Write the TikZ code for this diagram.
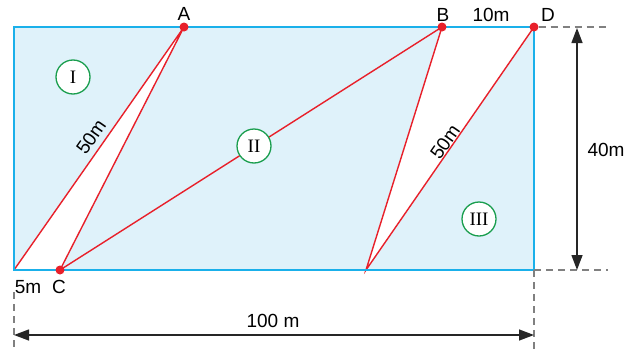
\documentclass[tikz,border=0pt]{standalone}
\usepackage{fontspec}
\setmainfont{Liberation Sans}
\newfontfamily\numfont{Liberation Serif}
\usetikzlibrary{arrows.meta}
\definecolor{fieldblue}{HTML}{DFF2FA}
\definecolor{edgeblue}{HTML}{1AB0EA}
\definecolor{linered}{HTML}{E8202A}
\definecolor{circgreen}{HTML}{1A9E4E}
\definecolor{dashgray}{HTML}{808080}
\tikzset{
  pt/.style={circle,fill=linered,inner sep=0pt,minimum size=9pt},
  corner/.style={inner sep=0pt,minimum size=0pt},
  redline/.style={draw=linered,line width=1.4pt},
  lbl/.style={font=\fontsize{19}{22}\selectfont,inner sep=0pt},
  region/.style={circle,draw=circgreen,line width=1.3pt,fill=white,minimum size=34pt,inner sep=0pt,font=\numfont\fontsize{19}{22}\selectfont},
  dim/.style={draw=black!85,line width=1.4pt,{Triangle[length=15pt,width=11pt]}-{Triangle[length=15pt,width=11pt]}},
  dashline/.style={draw=dashgray,line width=1.2pt,dash pattern=on 7pt off 5pt}
}
\begin{document}
\begin{tikzpicture}[x=1pt,y=-1pt]
\useasboundingbox (0,0) rectangle (629,351);
% corners and points
\coordinate (TL) at (14,27);
\coordinate (TR) at (534,27);
\coordinate (BL) at (14,270);
\coordinate (BR) at (534,270);
\coordinate (E) at (366,270);
\coordinate (Aa) at (184,27);
\coordinate (Bb) at (442,27);
\coordinate (Cc) at (60,270);
% fill
\fill[fieldblue] (TL) rectangle (BR);
\fill[white] (BL) -- (Aa) -- (Cc) -- cycle;
\fill[white] (Bb) -- (TR) -- (E) -- cycle;
% red lines
\draw[redline] (BL) -- (Aa) -- (Cc) -- (Bb) -- (E) -- (TR);
% border
\draw[edgeblue,line width=1.8pt] (TL) rectangle (BR);
% points
\node[pt] (A) at (Aa) {};
\node[pt] (B) at (Bb) {};
\node[pt] (C) at (Cc) {};
\node[pt] (D) at (TR) {};
% dashed helpers
\coordinate (dTop) at (610,27);
\coordinate (dBot) at (608,270);
\coordinate (dR) at (534,351);
\coordinate (dLt) at (14,292);
\coordinate (dLb) at (14,351);
\draw[dashline] (D) -- (dTop);
\draw[dashline] (BR) -- (dBot);
\draw[dashline] (BR) -- (dR);
\draw[dashline] (dLt) -- (dLb);
% dimension arrows
\coordinate (v1) at (577,28);
\coordinate (v2) at (577,270);
\draw[dim] (v1) -- (v2);
\coordinate (h1) at (14,335);
\coordinate (h2) at (534,335);
\draw[dim] (h1) -- (h2);
% labels
\node[lbl] (lA) at (184,14) {A};
\node[lbl] (lB) at (443,15) {B};
\node[lbl] (l10) at (491,15) {10m};
\node[lbl] (lD) at (548,15) {D};
\node[lbl] (l5) at (28,287) {5m};
\node[lbl] (lC) at (59,287) {C};
\node[lbl] (l100) at (273,321) {100 m};
\node[lbl] (l40) at (606,150) {40m};
\node[lbl,rotate=55] (l50a) at (91,137) {50m};
\node[lbl,rotate=55] (l50b) at (445,142) {50m};
% regions
\node[region] (r1) at (73,77) {I};
\node[region] (r2) at (254,146) {II};
\node[region] (r3) at (479,219) {III};
\end{tikzpicture}
\end{document}
